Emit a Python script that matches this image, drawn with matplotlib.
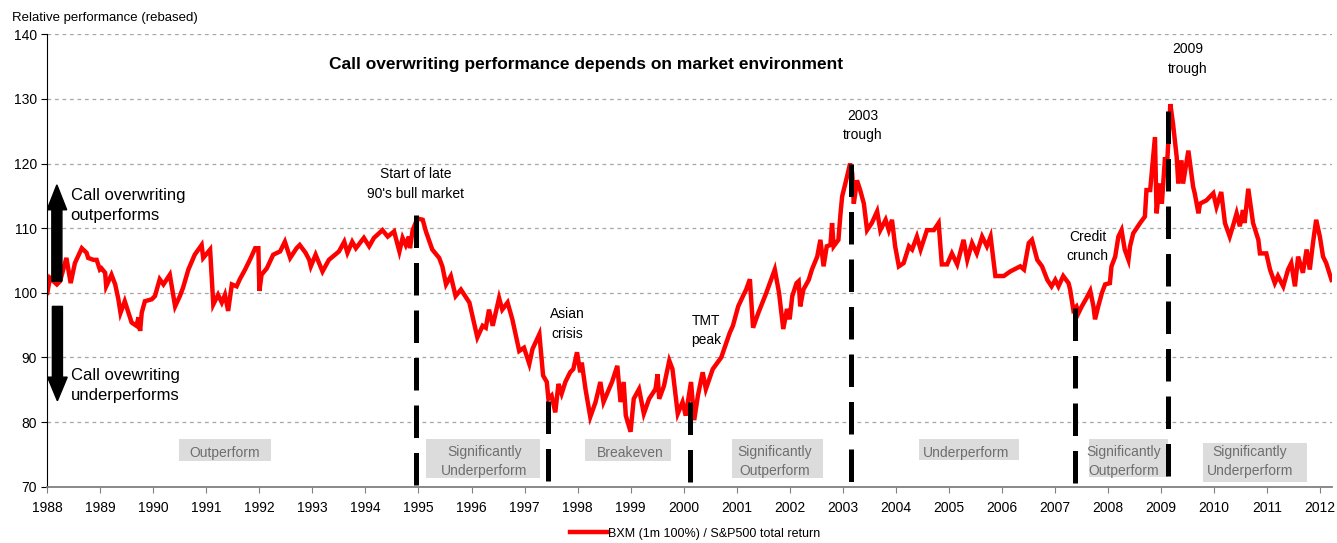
import matplotlib.pyplot as plt
from matplotlib.patches import Rectangle

plt.rcParams["font.family"] = ["Liberation Sans", "DejaVu Sans"]

# BXM (1m 100%) / S&P500 total return, rebased
dates = [
    1988.00, 1988.05, 1988.18, 1988.24, 1988.36, 1988.44, 1988.52, 1988.65, 1988.74, 1988.77,
    1988.87, 1988.93, 1988.99, 1989.02, 1989.09, 1989.11, 1989.21, 1989.28, 1989.34, 1989.38,
    1989.46, 1989.53, 1989.59, 1989.68, 1989.72, 1989.75, 1989.78, 1989.84, 1989.97, 1990.03,
    1990.12, 1990.19, 1990.31, 1990.41, 1990.50, 1990.56, 1990.66, 1990.78, 1990.91, 1990.94,
    1991.07, 1991.13, 1991.22, 1991.29, 1991.35, 1991.41, 1991.48, 1991.57, 1991.63, 1991.73,
    1991.82, 1991.92, 1991.98, 1992.00, 1992.04, 1992.14, 1992.26, 1992.39, 1992.48, 1992.58,
    1992.70, 1992.76, 1992.87, 1992.94, 1992.97, 1993.06, 1993.19, 1993.31, 1993.50, 1993.60,
    1993.66, 1993.75, 1993.82, 1993.97, 1994.07, 1994.16, 1994.32, 1994.42, 1994.54, 1994.64,
    1994.70, 1994.76, 1994.82, 1994.84, 1994.89, 1994.98, 1995.08, 1995.14, 1995.26, 1995.39,
    1995.45, 1995.52, 1995.61, 1995.70, 1995.80, 1995.96, 1996.11, 1996.21, 1996.27, 1996.33,
    1996.40, 1996.52, 1996.58, 1996.68, 1996.77, 1996.90, 1996.99, 1997.09, 1997.15, 1997.28,
    1997.35, 1997.42, 1997.45, 1997.51, 1997.58, 1997.64, 1997.70, 1997.77, 1997.86, 1997.92,
    1997.99, 1998.05, 1998.08, 1998.15, 1998.24, 1998.34, 1998.43, 1998.49, 1998.65, 1998.75,
    1998.81, 1998.87, 1998.91, 1999.00, 1999.06, 1999.16, 1999.25, 1999.35, 1999.47, 1999.51,
    1999.54, 1999.63, 1999.73, 1999.79, 1999.85, 1999.89, 1999.98, 2000.04, 2000.14, 2000.20,
    2000.27, 2000.36, 2000.42, 2000.55, 2000.71, 2000.87, 2000.93, 2001.03, 2001.12, 2001.18,
    2001.25, 2001.31, 2001.41, 2001.56, 2001.72, 2001.80, 2001.88, 2001.95, 2002.00, 2002.05,
    2002.13, 2002.17, 2002.20, 2002.26, 2002.36, 2002.42, 2002.52, 2002.58, 2002.64, 2002.70,
    2002.77, 2002.80, 2002.83, 2002.92, 2002.96, 2002.99, 2003.08, 2003.14, 2003.18, 2003.21,
    2003.27, 2003.33, 2003.40, 2003.46, 2003.55, 2003.65, 2003.71, 2003.81, 2003.87, 2003.93,
    2003.99, 2004.06, 2004.15, 2004.25, 2004.31, 2004.40, 2004.47, 2004.59, 2004.72, 2004.81,
    2004.87, 2004.97, 2005.06, 2005.16, 2005.28, 2005.35, 2005.44, 2005.53, 2005.63, 2005.72,
    2005.79, 2005.88, 2006.04, 2006.16, 2006.35, 2006.42, 2006.51, 2006.57, 2006.67, 2006.76,
    2006.86, 2006.94, 2007.01, 2007.07, 2007.16, 2007.26, 2007.29, 2007.35, 2007.41, 2007.45,
    2007.51, 2007.60, 2007.67, 2007.73, 2007.76, 2007.82, 2007.89, 2007.95, 2008.04, 2008.07,
    2008.14, 2008.20, 2008.26, 2008.32, 2008.39, 2008.42, 2008.48, 2008.61, 2008.70, 2008.73,
    2008.80, 2008.89, 2008.92, 2008.98, 2009.02, 2009.08, 2009.11, 2009.18, 2009.23, 2009.30,
    2009.33, 2009.39, 2009.42, 2009.52, 2009.61, 2009.64, 2009.71, 2009.74, 2009.86, 2009.99,
    2010.05, 2010.14, 2010.21, 2010.30, 2010.36, 2010.43, 2010.49, 2010.55, 2010.58, 2010.65,
    2010.74, 2010.84, 2010.87, 2010.99, 2011.06, 2011.15, 2011.21, 2011.31, 2011.40, 2011.46,
    2011.53, 2011.59, 2011.68, 2011.75, 2011.81, 2011.87, 2011.93, 2012.00, 2012.06, 2012.12, 2012.22,
]
values = [
    100.0, 102.3, 101.3, 101.8, 105.4, 101.5, 104.6, 106.9, 106.2, 105.4,
    105.1, 105.1, 103.6, 103.8, 103.1, 101.0, 102.8, 101.3, 99.0, 96.9,
    98.7, 96.9, 95.4, 94.9, 96.2, 94.1, 96.9, 98.7, 99.0, 99.5,
    102.1, 101.3, 102.8, 97.9, 99.5, 100.8, 103.6, 105.9, 107.4, 105.4,
    106.7, 98.2, 99.7, 98.5, 99.7, 97.2, 101.3, 101.0, 102.1, 103.6,
    105.1, 106.9, 106.9, 100.3, 102.8, 103.8, 105.9, 106.4, 107.9, 105.4,
    106.9, 107.4, 106.2, 105.1, 104.1, 105.9, 103.3, 105.1, 106.4, 107.9,
    106.2, 107.9, 106.9, 108.5, 107.2, 108.5, 109.7, 108.7, 109.5, 106.4,
    108.5, 107.4, 108.7, 106.9, 109.7, 111.5, 111.3, 109.5, 106.7, 105.4,
    104.1, 101.3, 102.6, 99.5, 100.5, 98.5, 93.1, 94.9, 94.6, 97.4,
    94.9, 99.2, 97.4, 98.5, 95.9, 91.0, 91.5, 89.0, 91.3, 93.6,
    87.2, 86.2, 83.6, 84.1, 81.5, 85.9, 84.4, 86.2, 87.7, 88.2,
    90.8, 87.7, 89.2, 85.1, 80.8, 83.1, 86.2, 83.1, 86.2, 88.7,
    83.1, 86.2, 81.0, 78.5, 83.6, 85.1, 81.3, 83.6, 85.1, 87.4,
    83.6, 85.6, 89.5, 88.2, 84.1, 81.3, 83.1, 81.0, 86.2, 80.3,
    84.1, 87.7, 85.1, 88.2, 90.0, 93.8, 94.9, 97.9, 99.5, 100.5,
    102.1, 94.6, 96.9, 100.0, 103.6, 100.0, 94.4, 97.5, 95.9, 99.5,
    101.5, 101.8, 97.9, 100.5, 102.0, 103.6, 105.6, 108.2, 104.1, 107.2,
    107.4, 110.8, 107.2, 108.2, 112.3, 114.9, 117.9, 120.0, 118.5, 113.8,
    117.4, 115.9, 113.8, 109.7, 110.8, 112.6, 109.7, 111.3, 109.7, 111.3,
    107.2, 104.1, 104.6, 107.2, 106.7, 108.7, 106.7, 109.7, 109.7, 110.8,
    104.4, 104.4, 106.1, 104.4, 108.2, 105.1, 107.7, 106.1, 108.7, 107.2,
    108.7, 102.6, 102.6, 103.3, 104.1, 103.6, 107.7, 108.2, 105.1, 104.1,
    102.0, 101.0, 102.0, 101.0, 102.6, 101.5, 100.5, 97.4, 97.9, 96.9,
    97.9, 99.2, 100.3, 97.9, 95.9, 97.9, 100.0, 101.3, 101.5, 104.1,
    105.6, 108.7, 109.7, 106.7, 105.1, 107.2, 109.2, 110.8, 111.8, 115.9,
    115.9, 124.1, 112.3, 116.9, 113.8, 121.0, 118.5, 129.2, 126.2, 121.0,
    116.9, 120.5, 116.9, 122.0, 116.4, 115.4, 112.3, 113.8, 114.3, 115.4,
    113.3, 115.6, 110.8, 108.7, 110.3, 112.3, 110.3, 112.8, 110.8, 116.1,
    110.8, 108.2, 106.1, 106.1, 103.6, 101.5, 102.6, 101.0, 103.6, 104.6,
    101.0, 105.6, 103.1, 106.7, 103.6, 107.7, 111.3, 108.7, 105.6, 104.6, 102.0,
]

# market events: date, level where the marker line stops, label
event_dates = [1994.95, 1997.45, 2000.12, 2003.15, 2007.38, 2009.14]
event_levels = [112.0, 83.3, 83.1, 120.0, 97.7, 128.2]
event_labels = ["Start of late\n90's bull market", "Asian\ncrisis", "TMT\npeak",
                "2003\ntrough", "Credit\ncrunch", "2009\ntrough"]
event_label_pos = [(1994.94, 116.8), (1997.81, 95.2), (2000.43, 94.2),
                   (2003.38, 125.9), (2007.62, 107.2), (2009.51, 136.2)]

# regime boxes along the bottom
regime_labels = ["Outperform", "Significantly\nUnderperform", "Breakeven",
                 "Significantly\nOutperform", "Underperform",
                 "Significantly\nOutperform", "Significantly\nUnderperform"]
regime_boxes = [(1990.48, 1992.22, 74.0, 77.4), (1995.15, 1997.29, 71.4, 77.4),
                (1998.14, 1999.77, 74.0, 77.4), (2000.91, 2002.62, 71.4, 77.4),
                (2004.44, 2006.32, 74.2, 77.4), (2007.65, 2009.13, 71.5, 77.4),
                (2009.79, 2011.75, 70.8, 76.8)]
regime_text_pos = [(1991.35, 75.2), (1996.24, 73.9), (1998.99, 75.2), (2001.72, 73.9),
                   (2005.32, 75.2), (2008.30, 73.9), (2010.68, 73.9)]

fig = plt.figure(figsize=(13.37, 5.43), dpi=100)
ax = fig.add_axes([0.0354, 0.1037, 0.9609, 0.8331])

line, = ax.plot(dates, values, color="#ff0000", lw=3.2, zorder=2,
                solid_joinstyle="miter")

for d, lev in zip(event_dates, event_levels):
    ax.plot([d, d], [lev, 70], color="black", lw=3.6, dashes=(6.5, 3),
            dash_capstyle="butt", zorder=3)

for lab, (x, y) in zip(event_labels, event_label_pos):
    ax.text(x, y, lab, ha="center", va="center", fontsize=10, linespacing=1.5)

for lab, (x0, x1, y0, y1), (tx, ty) in zip(regime_labels, regime_boxes, regime_text_pos):
    ax.add_patch(Rectangle((x0, y0), x1 - x0, y1 - y0, fc="#dcdcdc", ec="none", zorder=1))
    ax.text(tx, ty, lab, ha="center", va="center", fontsize=10, color="#6e6e6e",
            linespacing=1.5, zorder=1.5)

# direction arrows on the left
ax.arrow(1988.18, 101.8, 0, 14.9, width=0.19, head_width=0.37, head_length=3.85,
         length_includes_head=True, fc="black", ec="black", zorder=4)
ax.arrow(1988.19, 97.9, 0, -14.6, width=0.19, head_width=0.37, head_length=3.65,
         length_includes_head=True, fc="black", ec="black", zorder=4)
ax.text(1988.44, 113.5, "Call overwriting\noutperforms", fontsize=12, va="center",
        linespacing=1.4)
ax.text(1988.44, 85.6, "Call ovewriting\nunderperforms", fontsize=12, va="center",
        linespacing=1.4)

ax.text(1998.16, 135.4, "Call overwriting performance depends on market environment",
        ha="center", va="center", fontsize=12.5, fontweight="bold")

ax.set_xlim(1988, 2012.23)
ax.set_ylim(70, 140)
ax.set_xticks(range(1988, 2013))
ax.set_yticks(range(70, 141, 10))
ax.tick_params(axis="both", labelsize=10, length=4, direction="out")
ax.tick_params(axis="x", color="#808080", pad=6)
ax.yaxis.grid(True, color="#a6a6a6", lw=0.9, linestyle=(0, (3, 3)))
ax.set_axisbelow(True)
for s in ["top", "right"]:
    ax.spines[s].set_visible(False)
ax.spines["bottom"].set_color("#808080")
ax.spines["bottom"].set_linewidth(1.3)

fig.text(0.009, 1 - 18 / 543, "Relative performance (rebased)", fontsize=9.5, va="center")

fig.legend([line], ["BXM (1m 100%) / S&P500 total return"], loc="center",
           bbox_to_anchor=(0.52, 0.017), frameon=False, fontsize=9,
           handlelength=3.0, handletextpad=0.05)

fig.savefig("out.png", dpi=100)
